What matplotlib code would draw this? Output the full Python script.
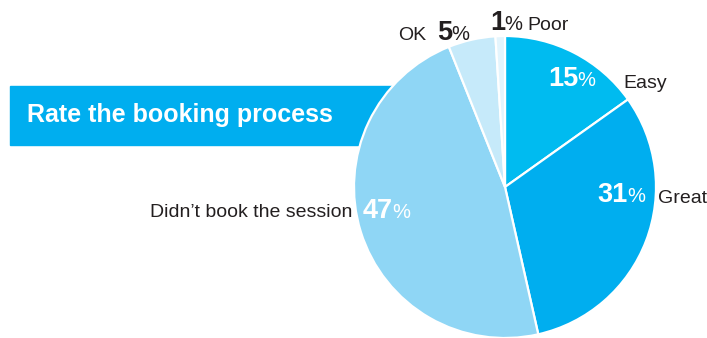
import matplotlib.pyplot as plt
from matplotlib.patches import Rectangle

plt.rcParams['font.family'] = ['Liberation Sans', 'DejaVu Sans']

# Survey answers, clockwise from the top
categories = ['Easy', 'Great', "Didn\u2019t book the session", 'OK', 'Poor']
values = [15, 31, 47, 5, 1]
colors = ['#00bbf0', '#00aeef', '#8fd6f5', '#c6eafa', '#e4f5fd']
title = 'Rate the booking process'

W, H = 707, 338
fig = plt.figure(figsize=(W / 100, H / 100), dpi=100)
ax = fig.add_axes([0, 0, 1, 1])

# header banner sits behind the pie
ax.add_patch(Rectangle((10, H - 145), 382, 59, color='#00aeef', zorder=0))
ax.text(27, H - 115, title, color='white', fontsize=18, fontweight='bold',
        va='center', ha='left', zorder=1)

cx, cy, r = 505, H - 187, 151
ax.pie(values, colors=colors, startangle=90, counterclock=False,
       center=(cx, cy), radius=r, frame=True,
       wedgeprops=dict(edgecolor='white', linewidth=1.6, zorder=2))

ax.set_xlim(0, W)
ax.set_ylim(0, H)
ax.set_aspect('auto')
ax.axis('off')

LABEL = 14


def pct(x, y, value, color):
    # big bold number followed by a smaller regular percent sign
    ax.text(x, y, str(value), color=color, fontsize=19.5, fontweight='bold',
            ha='right', va='baseline', zorder=5)
    ax.text(x - 0.5, y, '%', color=color, fontsize=14.5,
            ha='left', va='baseline', zorder=5)


# label anchors: (number right edge, baseline, text colour) and category text
dark = '#231f20'
pct(578, H - 86, values[0], 'white')
ax.text(623, H - 88, categories[0], fontsize=LABEL, color=dark, va='baseline', zorder=5)
pct(628, H - 202, values[1], 'white')
ax.text(658, H - 203, categories[1], fontsize=LABEL, color=dark, va='baseline', zorder=5)
pct(393, H - 218, values[2], 'white')
ax.text(352, H - 217, categories[2], fontsize=LABEL, color=dark, ha='right',
        va='baseline', zorder=5)
ax.text(426, H - 40, categories[3], fontsize=LABEL, color=dark, ha='right',
        va='baseline', zorder=5)
pct(452, H - 40, values[3], dark)
pct(505, H - 30, values[4], dark)
ax.text(527, H - 30, categories[4], fontsize=LABEL, color=dark, va='baseline', zorder=5)

fig.savefig('out.png', dpi=100)
